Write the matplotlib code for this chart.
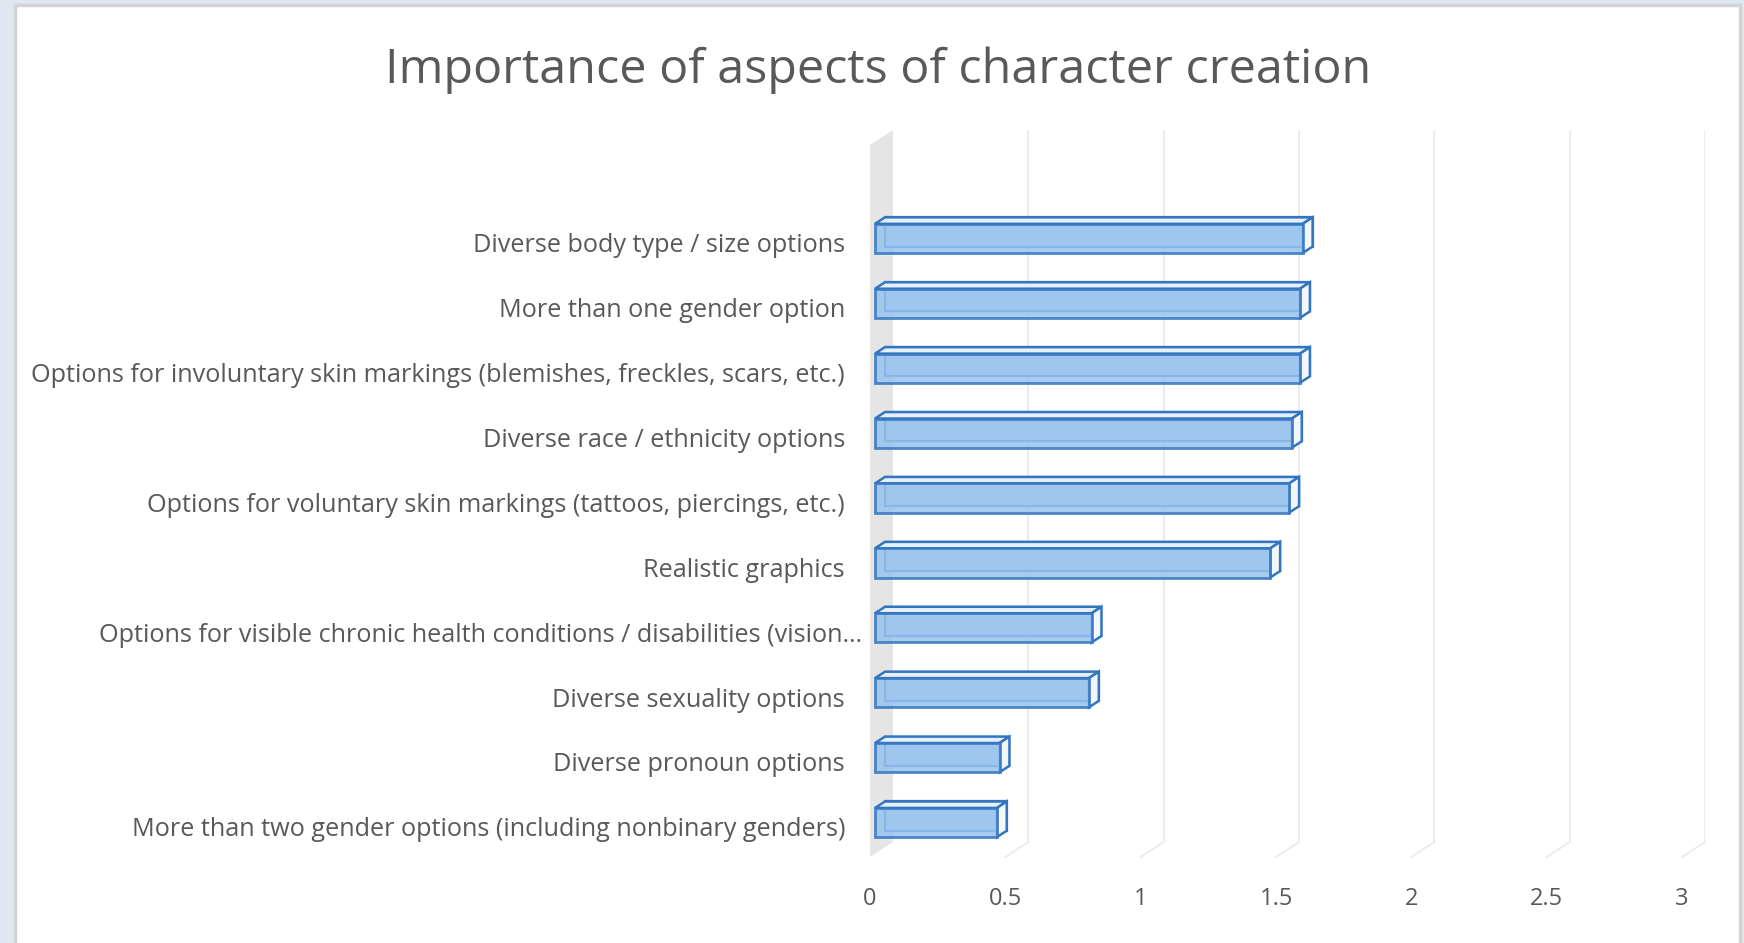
import numpy as np
import matplotlib
matplotlib.use("Agg")
import matplotlib.pyplot as plt
import matplotlib.transforms as mtransforms
from matplotlib.patches import Polygon, Rectangle

plt.rcParams['font.family'] = ['Open Sans', 'DejaVu Sans']

# ---------------------------------------------------------------------------
# data
# ---------------------------------------------------------------------------
categories = [
    "Diverse body type / size options",
    "More than one gender option",
    "Options for involuntary skin markings (blemishes, freckles, scars, etc.)",
    "Diverse race / ethnicity options",
    "Options for voluntary skin markings (tattoos, piercings, etc.)",
    "Realistic graphics",
    "Options for visible chronic health conditions / disabilities (vision\u2026",
    "Diverse sexuality options",
    "Diverse pronoun options",
    "More than two gender options (including nonbinary genders)",
]
values = [1.58, 1.57, 1.57, 1.54, 1.53, 1.46, 0.80, 0.79, 0.46, 0.45]
xticks = [0, 0.5, 1, 1.5, 2, 2.5, 3]
xtick_labels = ["0", "0.5", "1", "1.5", "2", "2.5", "3"]

TITLE = "Importance of aspects of character creation"
TEXT_COLOR = "#595959"
EDGE = "#3475c0"

# 3D look: depth offset of the front plane relative to the back wall (pixels)
DX, DY = 23, 15
D_BACK, D_FRONT = 0.35, 0.78
BAR_H = 0.45

W, H = 1744, 943
fig = plt.figure(figsize=(W / 100, H / 100), dpi=100, facecolor="#dfe7f1")

# white chart area with grey frame (behind the axes)
fig.patches.append(Rectangle((15 / W, -0.01), 1725 / W, 1 - 5 / H + 0.01,
                             transform=fig.transFigure, facecolor="white",
                             edgecolor="#d4d4d4", linewidth=2.5, zorder=-5))

# axes = back wall of the plot area
ax = fig.add_axes([893 / W, 1 - 842 / H, (1705 - 893) / W, (842 - 130) / H])
ax.set_xlim(0, 3)
ax.set_ylim(9.48, -1.49)
ax.axis("off")
ident = mtransforms.IdentityTransform()


def px(v, y, d):
    """data point on depth plane d (0 = back wall, 1 = front) -> pixels"""
    p = ax.transData.transform((v, y))
    return p + np.array([-DX * d, -DY * d])


def poly(pts, **kw):
    ax.add_patch(Polygon(pts, closed=True, transform=ident, clip_on=False, **kw))


y0, y1 = ax.get_ylim()

# side wall at x = 0
poly([px(0, y1, 0), px(0, y0, 0), px(0, y0, 1), px(0, y1, 1)],
     facecolor="#e5e5e5", edgecolor="none", zorder=1)

# gridlines on the back wall plus their floor diagonals
for v in xticks[1:]:
    ax.vlines(v, y0, y1, color="#ebebeb", linewidth=1.3, zorder=1)
    a, b = px(v, y0, 0), px(v, y0, 1)
    ax.plot([a[0], b[0]], [a[1], b[1]], color="#ebebeb", linewidth=1.3,
            transform=ident, clip_on=False, zorder=1)

ypos = np.arange(len(categories))

# bars: back outline, top face, right face, then translucent front face
for i, v in enumerate(values):
    top, bot = i - BAR_H / 2, i + BAR_H / 2
    poly([px(0, top, D_BACK), px(v, top, D_BACK), px(v, bot, D_BACK), px(0, bot, D_BACK)],
         facecolor="#c4dcf4", edgecolor=EDGE, linewidth=1.6, zorder=2)
    poly([px(0, top, D_BACK), px(v, top, D_BACK), px(v, top, D_FRONT), px(0, top, D_FRONT)],
         facecolor="#e6f0fa", edgecolor=EDGE, linewidth=1.8, zorder=3)
    poly([px(v, top, D_BACK), px(v, bot, D_BACK), px(v, bot, D_FRONT), px(v, top, D_FRONT)],
         facecolor="#f3f7fc", edgecolor=EDGE, linewidth=1.8, zorder=3)

front = mtransforms.offset_copy(ax.transData, fig=fig, x=-DX * D_FRONT,
                                y=-DY * D_FRONT, units="dots")
ax.barh(ypos, values, height=BAR_H, left=0, color="#98c3ee", alpha=0.85,
        edgecolor=EDGE, linewidth=2.0, transform=front, zorder=4, clip_on=False)

# category labels sit on the front plane
for i, lab in enumerate(categories):
    ty = px(0, i, 1)[1] - 4
    tx = 862 if lab.endswith("\u2026") else 845
    fig.text(tx, ty, lab, transform=ident, ha="right", va="center",
             fontsize=18.2, color=TEXT_COLOR)

# value axis labels under the front edge of the floor
for v, lab in zip(xticks, xtick_labels):
    p = px(v, y0, 1)
    fig.text(p[0], p[1] - 42, lab, transform=ident, ha="center", va="center",
             fontsize=17, color=TEXT_COLOR)

fig.text(878 / W, 1 - 70 / H, TITLE, ha="center", va="center",
         fontsize=34.8, color=TEXT_COLOR)

fig.savefig("out.png", dpi=100, facecolor=fig.get_facecolor())
